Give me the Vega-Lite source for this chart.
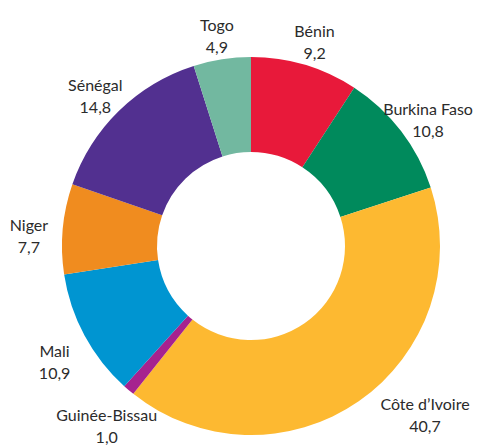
{
  "$schema": "https://vega.github.io/schema/vega-lite/v6.json",
  "width": 484,
  "height": 398,
  "padding": {"left": 9, "top": 47, "right": 0, "bottom": 0},
  "autosize": {"type": "none"},
  "background": "white",
  "config": {"view": {"stroke": null}},
  "data": {
    "values": [
      {"rang": 1, "pays": "Bénin", "part": 9.2, "etiquette": "Bénin\n9,2"},
      {"rang": 2, "pays": "Burkina Faso", "part": 10.8, "etiquette": "Burkina Faso\n10,8"},
      {"rang": 3, "pays": "Côte d’Ivoire", "part": 40.7, "etiquette": "Côte d’Ivoire\n40,7"},
      {"rang": 4, "pays": "Guinée-Bissau", "part": 1.0, "etiquette": "Guinée-Bissau\n1,0"},
      {"rang": 5, "pays": "Mali", "part": 10.9, "etiquette": "Mali\n10,9"},
      {"rang": 6, "pays": "Niger", "part": 7.7, "etiquette": "Niger\n7,7"},
      {"rang": 7, "pays": "Sénégal", "part": 14.8, "etiquette": "Sénégal\n14,8"},
      {"rang": 8, "pays": "Togo", "part": 4.9, "etiquette": "Togo\n4,9"}
    ]
  },
  "encoding": {
    "theta": {"field": "part", "type": "quantitative", "stack": true},
    "order": {"field": "rang", "type": "quantitative"}
  },
  "layer": [
    {
      "mark": {"type": "arc", "outerRadius": 189, "innerRadius": 94},
      "encoding": {
        "color": {
          "field": "pays",
          "type": "nominal",
          "legend": null,
          "scale": {
            "domain": ["Bénin", "Burkina Faso", "Côte d’Ivoire", "Guinée-Bissau", "Mali", "Niger", "Sénégal", "Togo"],
            "range": ["#E8193A", "#008A5C", "#FDB931", "#A6228F", "#0095D1", "#F08C1F", "#523090", "#72B8A0"]
          }
        }
      }
    },
    {
      "mark": {
        "type": "text",
        "radius": 223,
        "lineBreak": "\n",
        "lineHeight": 22,
        "font": "Lato",
        "fontSize": 16,
        "color": "#2b2b2b",
        "align": "center",
        "baseline": "middle"
      },
      "encoding": {
        "text": {"condition": {"test": "datum.pays === 'Côte d’Ivoire'", "value": ""}, "field": "etiquette", "type": "nominal"}
      }
    },
    {
      "transform": [{"filter": "datum.pays === 'Côte d’Ivoire'"}],
      "mark": {
        "type": "text",
        "radius": 223,
        "dx": 51,
        "dy": -27,
        "lineBreak": "\n",
        "lineHeight": 22,
        "font": "Lato",
        "fontSize": 16,
        "color": "#2b2b2b",
        "align": "center",
        "baseline": "middle"
      },
      "encoding": {
        "theta": {"field": "part", "type": "quantitative", "stack": false, "scale": {"domain": [0, 100]}},
        "text": {"field": "etiquette", "type": "nominal"}
      }
    }
  ]
}
